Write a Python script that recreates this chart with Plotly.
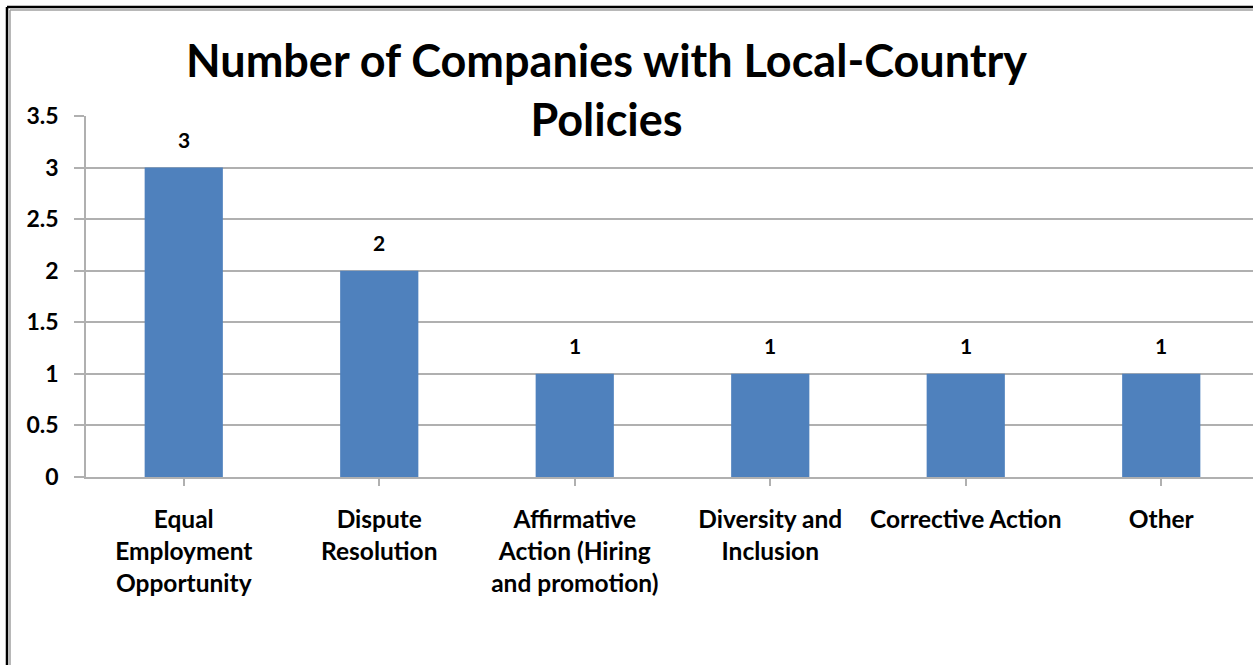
import plotly.graph_objects as go

categories = [
    "Equal<br>Employment<br>Opportunity",
    "Dispute<br>Resolution",
    "Affirmative<br>Action (Hiring<br>and promotion)",
    "Diversity and<br>Inclusion",
    "Corrective Action",
    "Other",
]
values = [3, 2, 1, 1, 1, 1]
y_ticks = [0, 0.5, 1, 1.5, 2, 2.5, 3, 3.5]
y_tick_labels = ["0", "0.5", "1", "1.5", "2", "2.5", "3", "3.5"]
title_text = "Number of Companies with Local-Country<br>Policies"

W, H = 1253, 665
ML, MR, MT, MB = 86, 0, 116, 188
FONT = "Lato"
BAR = "#4F81BD"
GRID = "#b0b0b0"

plot_w = W - ML - MR
plot_h = H - MT - MB


def px_x(px):
    return (px - ML) / plot_w


def px_y(py):
    return (H - MB - py) / plot_h


fig = go.Figure()
fig.add_trace(go.Bar(
    x=list(range(len(categories))),
    y=values,
    marker=dict(color=BAR, line=dict(width=0)),
    hoverinfo="skip",
))

for i, v in enumerate(values):
    fig.add_annotation(
        x=i, y=v, xref="x", yref="y", text=str(v), showarrow=False,
        yanchor="bottom", yshift=14,
        font=dict(family=FONT, size=21, color="black", weight="bold"),
    )

# title
fig.add_annotation(
    x=px_x(606), y=px_y(89), xref="paper", yref="paper",
    text=title_text, showarrow=False, xanchor="center", yanchor="middle",
    align="center",
    font=dict(family=FONT, size=45, color="black", weight="bold"),
)

cat_px = 195.5
x_end = -0.5 + plot_w / cat_px

fig.update_layout(
    width=W, height=H,
    margin=dict(l=ML, r=MR, t=MT, b=MB, autoexpand=False),
    paper_bgcolor="white", plot_bgcolor="white",
    bargap=0.6,
    showlegend=False,
    xaxis=dict(
        tickmode="array",
        tickvals=list(range(len(categories))),
        ticktext=categories,
        range=[-0.5, x_end],
        showgrid=False, zeroline=False,
        showline=True, linecolor=GRID, linewidth=1.5,
        ticks="outside", tickson="boundaries", ticklen=7, tickcolor=GRID, tickwidth=1.5,
        ticklabelstandoff=13,
        tickfont=dict(family=FONT, size=24.5, color="black", weight="bold"),
        fixedrange=True,
    ),
    yaxis=dict(
        range=[0, 3.5],
        tickmode="array", tickvals=y_ticks, ticktext=y_tick_labels,
        showgrid=True, gridcolor=GRID, gridwidth=1.5,
        zeroline=False,
        showline=True, linecolor=GRID, linewidth=1.5,
        ticks="outside", ticklen=10, tickcolor=GRID, tickwidth=1.5,
        ticklabelstandoff=11,
        tickfont=dict(family=FONT, size=23, color="black", weight="bold"),
        fixedrange=True,
    ),
)

# frame (top and left edges visible)
fig.add_shape(type="line", xref="paper", yref="paper",
              x0=px_x(7), x1=px_x(W + 10), y0=px_y(7), y1=px_y(7),
              line=dict(color="black", width=2.5), layer="above")
fig.add_shape(type="line", xref="paper", yref="paper",
              x0=px_x(7), x1=px_x(7), y0=px_y(7), y1=px_y(H + 10),
              line=dict(color="black", width=2.5), layer="above")
fig.add_shape(type="line", xref="paper", yref="paper",
              x0=px_x(10), x1=px_x(W + 10), y0=px_y(10), y1=px_y(10),
              line=dict(color="#a0a0a0", width=1.5), layer="above")
fig.add_shape(type="line", xref="paper", yref="paper",
              x0=px_x(10), x1=px_x(10), y0=px_y(10), y1=px_y(H + 10),
              line=dict(color="#a0a0a0", width=1.5), layer="above")

fig.write_html("out.html", config={"displayModeBar": False})
